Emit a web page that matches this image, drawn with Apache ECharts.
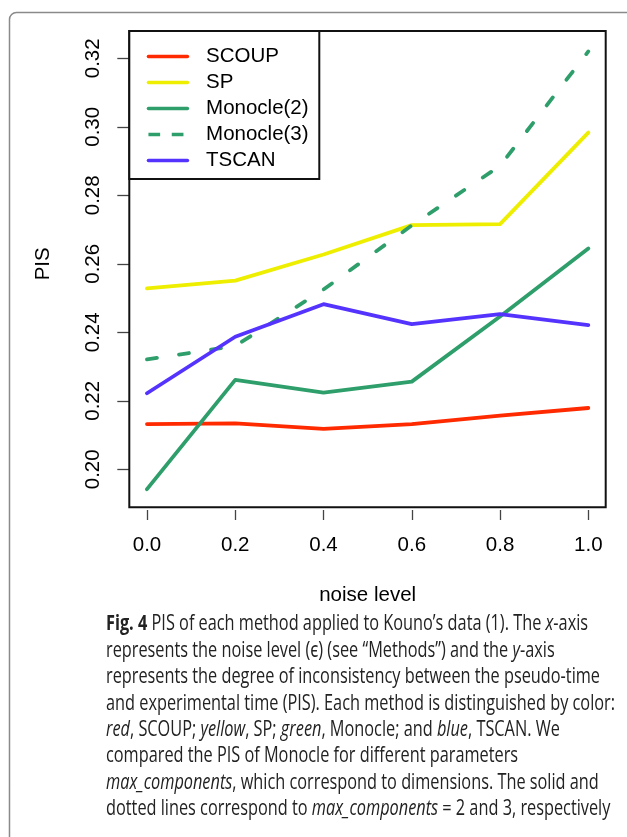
<!DOCTYPE html>
<html>
<head>
<meta charset="utf-8">
<script src="https://cdn.jsdelivr.net/npm/echarts@6/dist/echarts.min.js"></script>
<style>
  html, body { margin: 0; padding: 0; background: #fff; }
  #main { width: 627px; height: 837px; }
</style>
</head>
<body>
<div id="main"></div>
<script>
// values
var noiseLevels = [0.0, 0.2, 0.4, 0.6, 0.8, 1.0];
var scoup    = [0.2132, 0.2134, 0.2118, 0.2132, 0.2157, 0.2179];
var sp       = [0.2528, 0.2551, 0.2627, 0.2713, 0.2716, 0.2983];
var monocle2 = [0.1942, 0.2261, 0.2224, 0.2256, 0.2446, 0.2645];
var monocle3 = [0.2321, 0.2360, 0.2525, 0.2712, 0.2886, 0.3220];
var tscan    = [0.2222, 0.2387, 0.2482, 0.2424, 0.2453, 0.2421];

var methodNames = ['SCOUP', 'SP', 'Monocle(2)', 'Monocle(3)', 'TSCAN'];
var methodColors = ['#ff2a00', '#eeee00', '#2e9e6b', '#2e9e6b', '#5533ff'];

var captionLines = [
  '{b|Fig. 4} PIS of each method applied to Kouno\u2019s data (1). The {i|x}-axis',
  'represents the noise level (\u03f5) (see \u201cMethods\u201d) and the {i|y}-axis',
  'represents the degree of inconsistency between the pseudo-time',
  'and experimental time (PIS). Each method is distinguished by color:',
  '{i|red}, SCOUP; {i|yellow}, SP; {i|green}, Monocle; and {i|blue}, TSCAN. We',
  'compared the PIS of Monocle for different parameters',
  '{i|max_components}, which correspond to dimensions. The solid and',
  'dotted lines correspond to {i|max_components} = 2 and 3, respectively'
];

function pairs(ys) {
  return noiseLevels.map(function (x, i) { return [x, ys[i]]; });
}

var chart = echarts.init(document.getElementById('main'));

var FONT = '"Liberation Sans", Arial, Helvetica, sans-serif';
var CAP_FONT = '"Open Sans", "Noto Sans", sans-serif';
var capSize = 21;

// squeeze caption to the condensed width of the original
var ctx = document.createElement('canvas').getContext('2d');
ctx.font = capSize + 'px ' + CAP_FONT;
var capScale = 494 / ctx.measureText(captionLines[2]).width;

var captionEls = captionLines.map(function (t, i) {
  return {
    type: 'text',
    x: 0,
    y: 624.5 + 26.4 * i,
    style: {
      text: t,
      fill: '#222',
      fontSize: capSize,
      fontFamily: CAP_FONT,
      verticalAlign: 'middle',
      rich: {
        b: { fontSize: capSize, fontFamily: CAP_FONT, fontWeight: 'bold', fill: '#222' },
        i: { fontSize: capSize, fontFamily: CAP_FONT, fontStyle: 'italic', fill: '#222' }
      }
    }
  };
});

function lineSeries(k, ys, dash) {
  return {
    name: methodNames[k],
    type: 'line',
    data: pairs(ys),
    symbol: 'none',
    clip: false,
    color: methodColors[k],
    lineStyle: { width: 3.8, color: methodColors[k], type: dash || 'solid', cap: 'round', join: 'round' },
    z: 2
  };
}

var option = {
  animation: false,
  backgroundColor: '#fff',
  grid: { left: 147, top: 58.3, width: 441.3, height: 411 },
  xAxis: {
    type: 'value',
    min: 0, max: 1, interval: 0.2,
    offset: 40.7,
    name: 'noise level',
    nameLocation: 'middle',
    nameGap: 75,
    nameTextStyle: { fontFamily: FONT, fontSize: 20.5, color: '#000', lineHeight: 20 },
    axisLine: { show: false, onZero: false },
    axisTick: { length: 10, lineStyle: { color: '#444', width: 1.3 } },
    axisLabel: {
      margin: 25.4,
      fontFamily: FONT, fontSize: 20.5, color: '#000', lineHeight: 20,
      formatter: function (v) { return v.toFixed(1); }
    },
    splitLine: { show: false }
  },
  yAxis: {
    type: 'value',
    min: 0.2, max: 0.32, interval: 0.02,
    offset: 17.7,
    name: 'PIS',
    nameLocation: 'middle',
    nameRotate: 90,
    nameGap: 76.2,
    nameTextStyle: { fontFamily: FONT, fontSize: 20.5, color: '#000', lineHeight: 20 },
    axisLine: { show: false, onZero: false },
    axisTick: { length: 12, lineStyle: { color: '#444', width: 1.3 } },
    axisLabel: {
      rotate: 90,
      margin: 26.2,
      fontFamily: FONT, fontSize: 20.5, color: '#000', lineHeight: 20,
      formatter: function (v) { return v.toFixed(2); }
    },
    splitLine: { show: false }
  },
  legend: {
    orient: 'vertical',
    left: 146.7,
    top: 46,
    padding: 0,
    itemGap: 5,
    itemWidth: 39,
    itemHeight: 20,
    z: 5,
    itemStyle: { opacity: 0 },
    lineStyle: { width: 3.5 },
    textStyle: { fontFamily: FONT, fontSize: 20.5, color: '#000', lineHeight: 20, padding: [0, 0, 0, 13.6] },
    data: [
      { name: 'SCOUP' },
      { name: 'SP' },
      { name: 'Monocle(2)' },
      { name: 'Monocle(3)', lineStyle: { type: [11.7, 11.6], cap: 'butt' } },
      { name: 'TSCAN' }
    ]
  },
  graphic: {
    elements: [
      // outer figure frame
      { type: 'rect', z: 0, shape: { x: 9.5, y: 12.5, width: 700, height: 900, r: 7 },
        style: { fill: 'none', stroke: '#8a8a8a', lineWidth: 1.5 } },
      // plot box
      { type: 'rect', z: 1, shape: { x: 129.3, y: 31, width: 476.4, height: 476.3 },
        style: { fill: 'none', stroke: '#111', lineWidth: 2 } },
      // legend box
      { type: 'rect', z: 3, shape: { x: 129.3, y: 31, width: 190, height: 148 },
        style: { fill: '#fff', stroke: '#111', lineWidth: 2 } },
      { type: 'group', x: 106, y: 0, scaleX: capScale, children: captionEls }
    ]
  },
  series: [
    lineSeries(0, scoup),
    lineSeries(1, sp),
    lineSeries(2, monocle2),
    lineSeries(3, monocle3, [10, 22.4]),
    lineSeries(4, tscan)
  ]
};

chart.setOption(option);
</script>
</body>
</html>
